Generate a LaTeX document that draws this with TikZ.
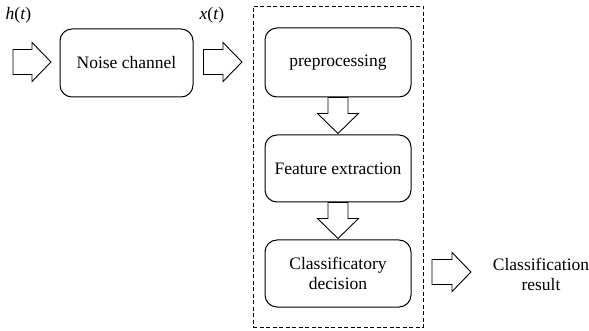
\documentclass[tikz,border=0pt]{standalone}
\usepackage{fontspec}
\setmainfont{Liberation Serif}
\usetikzlibrary{calc}
\tikzset{
  box/.style={draw, line width=1pt, rounded corners=12pt, align=center,
    font=\fontsize{17.5}{20}\selectfont, inner sep=0pt},
  lbl/.style={font=\fontsize{17.5}{20}\selectfont, align=center, inner sep=0pt},
  grp/.style={draw, line width=0.9pt, dash pattern=on 4pt off 2.5pt, inner sep=0pt},
  blk/.style={draw, line width=0.9pt, fill=white, line join=miter},
}
% block arrow pointing right, from #1 to #2 (same height)
\newcommand\rblock[2]{%
  \draw[blk] let \p1=(#1), \p2=(#2) in
    (\x1,\y1+12.5pt) -- (\x2-19pt,\y1+12.5pt) -- (\x2-19pt,\y1+19.5pt) --
    (\x2,\y1) -- (\x2-19pt,\y1-19.5pt) -- (\x2-19pt,\y1-12.5pt) --
    (\x1,\y1-12.5pt) -- cycle;}
% block arrow pointing down, from #1 to #2 (same abscissa)
\newcommand\dblock[2]{%
  \draw[blk] let \p1=(#1), \p2=(#2) in
    (\x1-10pt,\y1) -- (\x1-10pt,\y2+20pt) -- (\x1-20.5pt,\y2+20pt) --
    (\x1,\y2) -- (\x1+20.5pt,\y2+20pt) -- (\x1+10pt,\y2+20pt) --
    (\x1+10pt,\y1) -- cycle;}
\begin{document}
\begin{tikzpicture}[x=1pt,y=-1pt]
  \useasboundingbox (0,0) rectangle (589,331);

  % dashed frame round the recognition stages
  \node[grp, minimum width=170pt, minimum height=321pt] (frame) at (338,166.5) {};

  % processing blocks
  \node[box, minimum width=133pt, minimum height=68pt] (noise) at (126.5,63) {Noise channel};
  \node[box, minimum width=146pt, minimum height=69pt] (pre) at (338,62.5) {preprocessing};
  \node[box, minimum width=146pt, minimum height=67pt] (feat) at (338,168.5) {Feature extraction};
  \node[box, minimum width=146pt, minimum height=67pt] (dec) at (338,273.5) {Classificatory\\decision};

  % signal labels and output
  \node[lbl] (h) at (18.5,15) {\textit{h}(\textit{t})};
  \node[lbl] (x) at (212,15) {\textit{x}(\textit{t})};
  \node[lbl] (res) at (541,274) {Classification\\result};

  % arrow end points
  \coordinate (a1s) at (13,62);
  \coordinate (a1e) at (51,62);
  \coordinate (a2s) at ($(noise.east)+(10,-1)$);
  \coordinate (a2e) at (242,62);
  \coordinate (a3s) at (432,272);
  \coordinate (a3e) at (471,272);

  \rblock{a1s}{a1e}
  \rblock{a2s}{a2e}
  \dblock{pre.south}{$(feat.north)+(0,-1)$}
  \dblock{feat.south}{$(dec.north)+(0,-1)$}
  \rblock{a3s}{a3e}
\end{tikzpicture}
\end{document}
